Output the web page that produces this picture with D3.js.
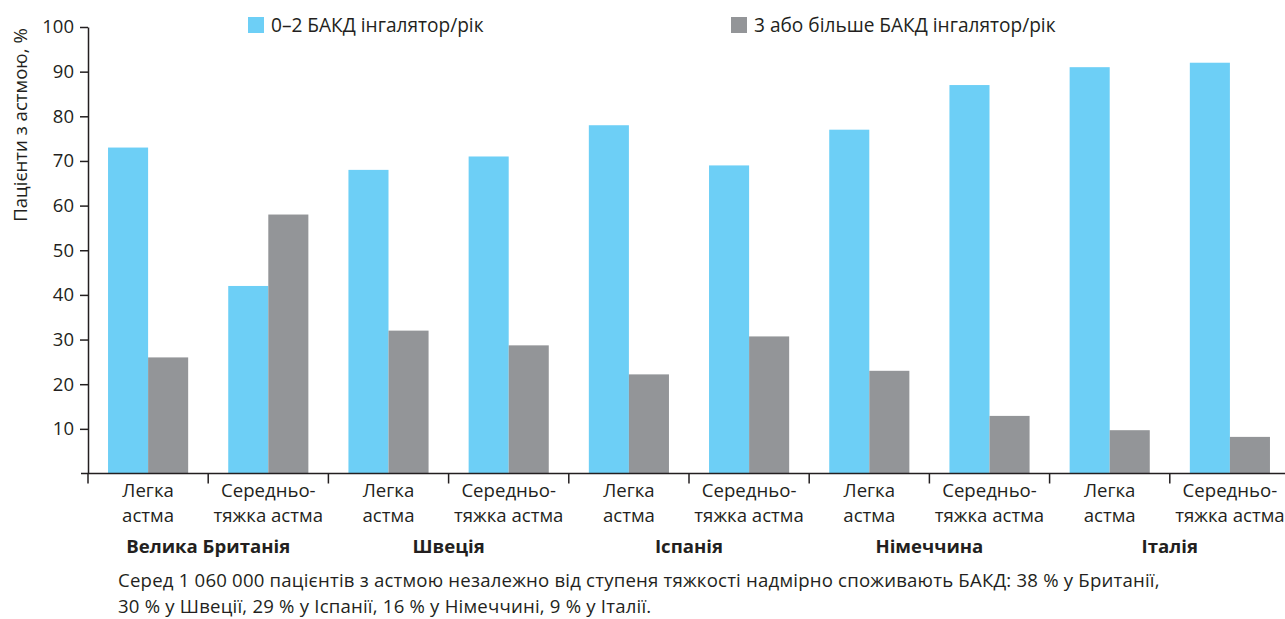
<!DOCTYPE html>
<html>
<head>
<meta charset="utf-8">
<script src="https://cdn.jsdelivr.net/npm/d3@7"></script>
<style>
  html, body { margin: 0; padding: 0; background: #fff; }
  svg { display: block; font-family: "Open Sans", "Noto Sans", sans-serif; }
  text { fill: #231f20; }
</style>
</head>
<body>
<svg id="chart" width="1285" height="619"></svg>
<script>
// Countries (each spans two severity groups)
const countries = ["Велика Британія", "Швеція", "Іспанія", "Німеччина", "Італія"];
// Severity labels, split over two lines
const severityLines = [["Легка", "астма"], ["Середньо-", "тяжка астма"]];
// Share of patients, % — one value per country × severity group
const lowUse  = [73, 42, 68, 71, 78, 69, 77, 87, 91, 92];     // 0–2 inhalers per year
const highUse = [26, 58, 32, 28.7, 22.2, 30.7, 23, 12.9, 9.7, 8.2]; // 3 or more per year
const seriesNames = ["0–2 БАКД інгалятор/рік", "3 або більше БАКД інгалятор/рік"];
const seriesColors = ["#6dcff6", "#939598"];
const yTicks = [10, 20, 30, 40, 50, 60, 70, 80, 90, 100];
const yTitle = "Пацієнти з астмою, %";
const noteLines = [
  "Серед 1 060 000 пацієнтів з астмою незалежно від ступеня тяжкості надмірно споживають БАКД: 38 % у Британії,",
  "30 % у Швеції, 29 % у Іспанії, 16 % у Німеччині, 9 % у Італії."
];

const groups = countries.flatMap((c, ci) => severityLines.map((s, si) => ({
  country: c, lines: s, idx: ci * 2 + si
})));

const svg = d3.select("#chart");
const ink = "#231f20";

const x = d3.scaleBand().domain(d3.range(groups.length)).range([88, 1290]).padding(0);
const xSeries = d3.scaleBand().domain([0, 1]).range([0, x.bandwidth()]).paddingInner(0).paddingOuter(0.5);
const y = d3.scaleLinear().domain([0, 100]).range([473.5, 27]);

// Bars
const seriesData = [lowUse, highUse];
seriesData.forEach((vals, si) => {
  svg.append("g").selectAll("rect")
    .data(vals)
    .join("rect")
    .attr("x", (d, i) => x(i) + xSeries(si))
    .attr("y", d => y(d))
    .attr("width", xSeries.bandwidth())
    .attr("height", d => y(0) - y(d))
    .attr("fill", seriesColors[si]);
});

// Y axis
const yAxis = svg.append("g")
  .attr("transform", "translate(88,0)")
  .call(d3.axisLeft(y).tickValues(yTicks).tickSize(8).tickSizeOuter(0).tickPadding(6));
yAxis.select(".domain").attr("stroke", ink).attr("stroke-width", 1.5);
yAxis.selectAll(".tick line").attr("stroke", ink).attr("stroke-width", 1.5);
yAxis.selectAll(".tick text")
  .attr("fill", ink)
  .style("font-size", "18.5px")
  .style("font-family", "'Open Sans', sans-serif");

// X baseline with band-boundary ticks
svg.append("line")
  .attr("x1", 81).attr("x2", 1285)
  .attr("y1", y(0)).attr("y2", y(0))
  .attr("stroke", ink).attr("stroke-width", 1.5);
svg.append("g").selectAll("line")
  .data(groups)
  .join("line")
  .attr("x1", d => x(d.idx)).attr("x2", d => x(d.idx))
  .attr("y1", y(0)).attr("y2", y(0) + 10)
  .attr("stroke", ink).attr("stroke-width", 1.5);

// Severity labels
const catLabels = svg.append("g").selectAll("text")
  .data(groups)
  .join("text")
  .attr("text-anchor", "middle")
  .style("font-size", "18.6px");
catLabels.each(function(d) {
  const t = d3.select(this);
  const cx = x(d.idx) + x.bandwidth() / 2;
  d.lines.forEach((ln, li) => {
    t.append("tspan").attr("x", cx).attr("y", 497 + li * 25).text(ln);
  });
});

// Country labels
svg.append("g").selectAll("text")
  .data(countries)
  .join("text")
  .attr("x", (d, i) => x(i * 2) + x.step())
  .attr("y", 553)
  .attr("text-anchor", "middle")
  .style("font-size", "18.6px")
  .style("font-weight", "700")
  .text(d => d);

// Y axis title
svg.append("text")
  .attr("transform", "translate(27,125) rotate(-90)")
  .attr("text-anchor", "middle")
  .style("font-size", "18.6px")
  .text(yTitle);

// Legend
const legendX = [248, 731];
const legend = svg.append("g").selectAll("g")
  .data(seriesNames)
  .join("g")
  .attr("transform", (d, i) => `translate(${legendX[i]},17)`);
legend.append("rect").attr("width", 16).attr("height", 16).attr("fill", (d, i) => seriesColors[i]);
legend.append("text").attr("x", 23).attr("y", 15).style("font-size", "19.1px").text(d => d);

// Footnote
svg.append("g").selectAll("text")
  .data(noteLines)
  .join("text")
  .attr("x", 118)
  .attr("y", (d, i) => 587 + i * 26)
  .style("font-size", "18.6px")
  .style("letter-spacing", "0.2px")
  .text(d => d);
</script>
</body>
</html>
